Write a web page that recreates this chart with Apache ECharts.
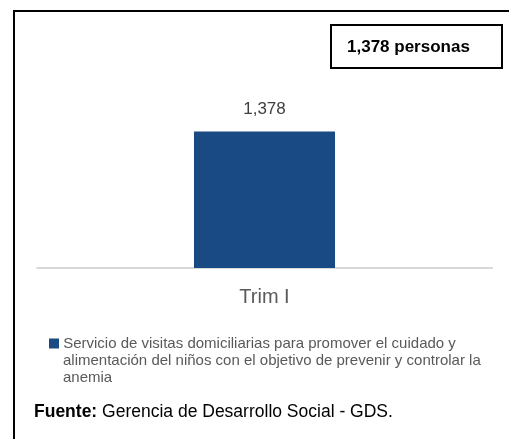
<!DOCTYPE html>
<html>
<head>
<meta charset="utf-8">
<script src="https://cdn.jsdelivr.net/npm/echarts@6/dist/echarts.min.js"></script>
<style>
  html, body { margin: 0; padding: 0; background: #fff; }
  #chart { width: 509px; height: 439px; }
</style>
</head>
<body>
<div id="chart"></div>
<script>
const categories = ["Trim I"];
const values = [1378];
const seriesName =
  "Servicio de visitas domiciliarias para promover el cuidado y alimentación del niños con el objetivo de prevenir y controlar la anemia";
const legendLines = [
  "Servicio de visitas domiciliarias para promover el cuidado y",
  "alimentación del niños con el objetivo de prevenir y controlar la",
  "anemia",
];
const totalLabel = "1,378 personas";
const barColor = "#1a4a83";

const myChart = echarts.init(document.getElementById("chart"));

let option = {
  animation: false,
  textStyle: { fontFamily: "Liberation Sans, Arial, sans-serif" },
  grid: {
    left: 37,
    right: 17,
    top: 40,
    height: 228,
  },
  legend: {
    left: 39,
    top: 330,
    icon: "none",
    itemWidth: 0,
    itemHeight: 10,
    itemGap: 0,
    formatter: () =>
      "{m|}{t| " + legendLines[0] + "}\n" +
      legendLines.slice(1).map((l) => "{i|" + l + "}").join("\n"),
    textStyle: {
      color: "#595959",
      fontSize: 15,
      lineHeight: 17,
      rich: {
        m: { width: 10, height: 10, backgroundColor: barColor },
        t: { color: "#595959", fontSize: 15, lineHeight: 17 },
        i: { color: "#595959", fontSize: 15, lineHeight: 17, padding: [0, 0, 0, 14] },
      },
    },
  },
  xAxis: {
    type: "category",
    data: categories,
    axisTick: { show: false },
    axisLine: { lineStyle: { color: "#d9d9d9", width: 2 } },
    axisLabel: { color: "#595959", fontSize: 20, margin: 19 },
  },
  yAxis: {
    type: "value",
    min: 0,
    max: 2300,
    show: false,
    splitLine: { show: false },
  },
  series: [
    {
      name: seriesName,
      type: "bar",
      data: values,
      barWidth: "31%",
      itemStyle: { color: barColor },
      label: {
        show: true,
        position: "top",
        distance: 14,
        color: "#404040",
        fontSize: 17,
        formatter: (p) => p.value.toLocaleString("en-US"),
      },
    },
  ],
  graphic: [
    // 外框
    {
      type: "polyline",
      shape: { points: [[14, 439], [14, 11], [509, 11]] },
      style: { stroke: "#000", lineWidth: 2, fill: null },
    },
    // 总数框
    {
      type: "rect",
      shape: { x: 331, y: 25, width: 171, height: 43 },
      style: { stroke: "#000", lineWidth: 2, fill: "#fff" },
    },
    {
      type: "text",
      left: 347,
      top: 39,
      style: {
        text: totalLabel,
        font: "bold 17px Liberation Sans, Arial, sans-serif",
        fill: "#000",
      },
    },
    {
      type: "text",
      left: 34,
      top: 403,
      style: {
        text: "{b|Fuente:} Gerencia de Desarrollo Social - GDS.",
        font: "17.5px Liberation Sans, Arial, sans-serif",
        fill: "#000",
        rich: {
          b: { fontWeight: "bold", fontSize: 17.5, fill: "#000" },
        },
      },
    },
  ],
};
myChart.setOption(option);
</script>
</body>
</html>
